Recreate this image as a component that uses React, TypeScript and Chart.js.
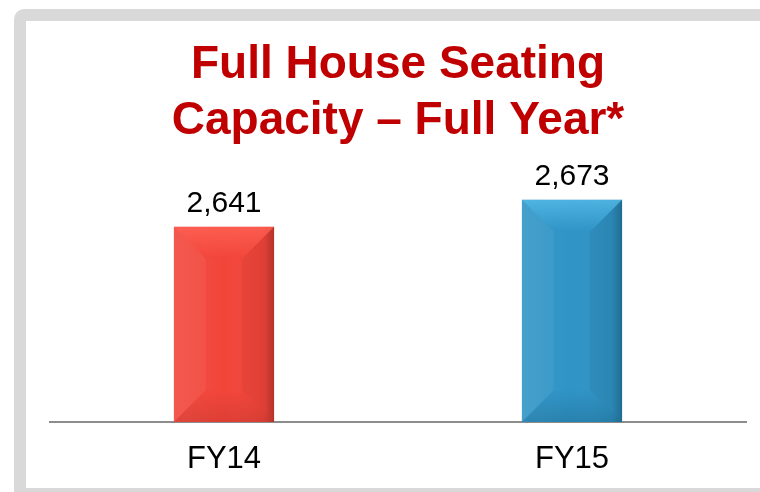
import React, { useEffect, useRef } from "react";
import { Chart, registerables } from "chart.js";

Chart.register(...registerables);

const categories = ["FY14", "FY15"];
const seatingCapacity = [2641, 2673];
const valueLabels = ["2,641", "2,673"];
const titleLines = ["Full House Seating", "Capacity \u2013 Full Year*"];

const faceColors = ["#f2453a", "#2f94c6"];
const lightColors = ["#ff6355", "#56bbe8"];
const darkColors = ["#b8322a", "#1a5f82"];

const FONT = "'Liberation Sans', Arial, Helvetica, sans-serif";

const bevelPlugin = {
  id: "bevel",
  afterDatasetsDraw(chart: any) {
    const ctx = chart.ctx;
    const meta = chart.getDatasetMeta(0);
    const yScale = chart.scales.y;
    const b = yScale.getPixelForValue(yScale.min);
    meta.data.forEach((bar: any, i: number) => {
      const x = bar.x;
      const t = bar.y;
      const width = bar.width;
      const l = x - width / 2;
      const r = x + width / 2;
      const d = Math.max(0, Math.min(32, (b - t) / 2, width / 2));
      ctx.save();
      ctx.beginPath();
      ctx.rect(l, t, width, b - t);
      ctx.clip();
      // horizontal shading on the face
      const g = ctx.createLinearGradient(l, 0, r, 0);
      g.addColorStop(0, "rgba(255,255,255,0.06)");
      g.addColorStop(0.5, "rgba(255,255,255,0.0)");
      g.addColorStop(0.9, "rgba(0,0,0,0.05)");
      g.addColorStop(1, "rgba(0,0,0,0.25)");
      ctx.fillStyle = g;
      ctx.fillRect(l, t, width, b - t);
      // top bevel
      const gt = ctx.createLinearGradient(0, t, 0, t + d);
      gt.addColorStop(0, lightColors[i]);
      gt.addColorStop(1, faceColors[i]);
      ctx.globalAlpha = 0.8;
      ctx.fillStyle = gt;
      ctx.beginPath();
      ctx.moveTo(l, t);
      ctx.lineTo(r, t);
      ctx.lineTo(r - d, t + d);
      ctx.lineTo(l + d, t + d);
      ctx.closePath();
      ctx.fill();
      // bottom bevel
      const gb = ctx.createLinearGradient(0, b - d, 0, b);
      gb.addColorStop(0, faceColors[i]);
      gb.addColorStop(1, darkColors[i]);
      ctx.globalAlpha = 0.35;
      ctx.fillStyle = gb;
      ctx.beginPath();
      ctx.moveTo(l, b);
      ctx.lineTo(r, b);
      ctx.lineTo(r - d, b - d);
      ctx.lineTo(l + d, b - d);
      ctx.closePath();
      ctx.fill();
      // right bevel
      ctx.globalAlpha = 0.14;
      ctx.fillStyle = darkColors[i];
      ctx.beginPath();
      ctx.moveTo(r, t);
      ctx.lineTo(r, b);
      ctx.lineTo(r - d, b - d);
      ctx.lineTo(r - d, t + d);
      ctx.closePath();
      ctx.fill();
      // left bevel
      ctx.globalAlpha = 0.05;
      ctx.fillStyle = "#ffffff";
      ctx.beginPath();
      ctx.moveTo(l, t);
      ctx.lineTo(l, b);
      ctx.lineTo(l + d, b - d);
      ctx.lineTo(l + d, t + d);
      ctx.closePath();
      ctx.fill();
      ctx.restore();

      // value label
      ctx.save();
      ctx.fillStyle = "#000000";
      ctx.font = `30px ${FONT}`;
      ctx.textAlign = "center";
      ctx.textBaseline = "alphabetic";
      ctx.fillText(valueLabels[i], x, t - 15);
      ctx.restore();
    });
  },
};

export default function App() {
  const canvasRef = useRef<HTMLCanvasElement | null>(null);

  useEffect(() => {
    if (!canvasRef.current) return;
    const chart = new Chart(canvasRef.current, {
      type: "bar",
      data: {
        labels: categories,
        datasets: [
          {
            data: seatingCapacity,
            backgroundColor: faceColors,
            borderWidth: 0,
            categoryPercentage: 1,
            barPercentage: 0.288,
          },
        ],
      },
      options: {
        responsive: false,
        animation: false,
        layout: { padding: { top: 0, left: 50, right: 14, bottom: 0 } },
        plugins: {
          legend: { display: false },
          tooltip: { enabled: false },
          title: {
            display: true,
            text: titleLines,
            color: "#c00000",
            font: { family: FONT, size: 46, weight: "bold", lineHeight: 1.217 },
            padding: { top: 37, bottom: 11 },
          },
        },
        scales: {
          x: {
            grid: { display: false, drawTicks: false },
            border: { display: true, color: "#8c8c8c", width: 2 },
            ticks: {
              color: "#000000",
              font: { family: FONT, size: 31 },
              padding: 19,
            },
            afterFit(scale: any) {
              scale.height = 70;
            },
          },
          y: {
            display: false,
            min: 2410,
            max: 2720,
          },
        },
      },
      plugins: [bevelPlugin],
    });
    return () => chart.destroy();
  }, []);

  return (
    <div
      style={{
        position: "fixed",
        left: 0,
        top: 0,
        width: 760,
        height: 492,
        background: "#ffffff",
        overflow: "hidden",
      }}
    >
      <div
        style={{
          position: "absolute",
          left: 14,
          top: 9,
          width: 800,
          height: 500,
          background: "#d9d9d9",
          borderTopLeftRadius: 10,
        }}
      />
      <div
        style={{
          position: "absolute",
          left: 26,
          top: 21,
          width: 800,
          height: 467,
          background: "#ffffff",
        }}
      />
      <canvas
        ref={canvasRef}
        width={760}
        height={492}
        style={{ position: "absolute", left: 0, top: 0, width: 760, height: 492 }}
      />
    </div>
  );
}
